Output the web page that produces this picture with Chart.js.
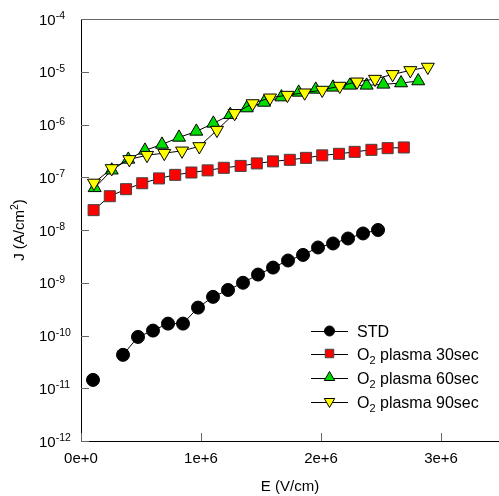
<!DOCTYPE html>
<html>
<head>
<meta charset="utf-8">
<script src="https://cdn.jsdelivr.net/npm/chart.js@4.4.1/dist/chart.umd.min.js"></script>
<style>
  body { margin: 0; background: #fff; }
  canvas { display: block; }
</style>
</head>
<body>
<canvas id="chart" width="499" height="496"></canvas>
<script>
// J-E data
var stdE = [0.1e6, 0.225e6, 0.35e6, 0.475e6, 0.6e6, 0.725e6, 0.85e6, 0.975e6, 1.1e6, 1.225e6,
            1.35e6, 1.475e6, 1.6e6, 1.725e6, 1.85e6, 1.975e6, 2.1e6, 2.225e6, 2.35e6, 2.475e6];
var stdJ = [1.44e-11, null, 4.3e-11, 9.4e-11, 1.24e-10, 1.68e-10, 1.68e-10, 3.38e-10, 5.4e-10, 7.3e-10,
            1.0e-9, 1.43e-9, 1.94e-9, 2.64e-9, 3.37e-9, 4.66e-9, 5.55e-9, 6.9e-9, 8.6e-9, 1.0e-8];

var p30E = [0.105e6, 0.24e6, 0.375e6, 0.51e6, 0.65e6, 0.785e6, 0.92e6, 1.055e6, 1.19e6, 1.33e6,
            1.465e6, 1.6e6, 1.74e6, 1.875e6, 2.01e6, 2.15e6, 2.28e6, 2.42e6, 2.555e6, 2.69e6];
var p30J = [2.38e-8, 4.37e-8, 5.94e-8, 7.7e-8, 9.5e-8, 1.11e-7, 1.23e-7, 1.35e-7, 1.51e-7, 1.64e-7,
            1.83e-7, 2.0e-7, 2.14e-7, 2.33e-7, 2.6e-7, 2.78e-7, 3.03e-7, 3.31e-7, 3.56e-7, 3.67e-7];

var p60E = [0.114e6, 0.256e6, 0.394e6, 0.533e6, 0.675e6, 0.817e6, 0.961e6, 1.103e6, 1.244e6, 1.381e6,
            1.525e6, 1.67e6, 1.814e6, 1.956e6, 2.1e6, 2.24e6, 2.38e6, 2.52e6, 2.667e6, 2.81e6];
var p60J = [6.3e-8, 1.36e-7, 2.18e-7, 3.23e-7, 4.19e-7, 5.69e-7, 7.4e-7, 1.05e-6, 1.53e-6, 2.05e-6,
            2.62e-6, 3.31e-6, 4.06e-6, 4.63e-6, 5.06e-6, 5.52e-6, 5.52e-6, 5.77e-6, 6.11e-6, 6.67e-6];

var p90E = [0.108e6, 0.256e6, 0.403e6, 0.55e6, 0.694e6, 0.842e6, 0.986e6, 1.133e6, 1.28e6, 1.43e6,
            1.575e6, 1.72e6, 1.864e6, 2.01e6, 2.156e6, 2.3e6, 2.45e6, 2.597e6, 2.744e6, 2.89e6];
var p90J = [7.8e-8, 1.47e-7, 2.18e-7, 2.62e-7, 2.86e-7, 3.17e-7, 3.84e-7, 7.83e-7, 1.63e-6, 2.5e-6,
            3.21e-6, 3.61e-6, 4.0e-6, 4.5e-6, 5.36e-6, 6.45e-6, 7.26e-6, 8.93e-6, 1.06e-5, 1.23e-5];

// axis ticks
var xTicks = [0, 1e6, 2e6, 3e6];
var xTickLabels = ['0e+0', '1e+6', '2e+6', '3e+6'];
var yExps = [-12, -11, -10, -9, -8, -7, -6, -5, -4];

// legend entries: [main text before subscript, subscript, rest]
var legendNames = [['STD', '', ''], ['O', '2', ' plasma 30sec'], ['O', '2', ' plasma 60sec'], ['O', '2', ' plasma 90sec']];

function pts(xs, ys) {
    return xs.map(function (x, i) { return { x: x, y: ys[i] }; });
}

var FONT = '"Liberation Sans", Arial, sans-serif';

// marker drawing used for legend
function marker(ctx, style, x, y, r, rot, fill, stroke) {
    ctx.save();
    ctx.fillStyle = fill;
    ctx.strokeStyle = stroke;
    ctx.lineWidth = 1;
    ctx.beginPath();
    if (style === 'circle') {
        ctx.arc(x, y, r, 0, Math.PI * 2);
    } else if (style === 'rect') {
        var s = r * Math.SQRT1_2;
        ctx.rect(x - s, y - s, 2 * s, 2 * s);
    } else {
        var a = rot * Math.PI / 180;
        for (var k = 0; k < 3; k++) {
            var px = x + Math.sin(a) * r, py = y - Math.cos(a) * r;
            if (k === 0) ctx.moveTo(px, py); else ctx.lineTo(px, py);
            a += 2 * Math.PI / 3;
        }
        ctx.closePath();
    }
    ctx.fill();
    ctx.stroke();
    ctx.restore();
}

var decor = {
    id: 'decor',
    beforeDatasetsDraw: function (chart) {
        var ctx = chart.ctx, a = chart.chartArea;
        var xs = chart.scales.x, ys = chart.scales.y;
        ctx.save();
        // frame
        ctx.lineWidth = 1;
        ctx.strokeStyle = '#666';
        ctx.beginPath();
        ctx.moveTo(a.left, a.top + 0.5); ctx.lineTo(a.right, a.top + 0.5);
        ctx.stroke();
        ctx.strokeStyle = '#000';
        ctx.beginPath();
        ctx.moveTo(a.left + 0.5, a.top); ctx.lineTo(a.left + 0.5, a.bottom + 0.5);
        ctx.lineTo(a.right, a.bottom + 0.5);
        ctx.stroke();
        // inner tick marks
        ctx.strokeStyle = '#666';
        ctx.beginPath();
        yExps.forEach(function (e) {
            var y = Math.round(ys.getPixelForValue(Math.pow(10, e))) + 0.5;
            ctx.moveTo(a.left, y); ctx.lineTo(a.left + 8, y);
        });
        xTicks.forEach(function (v) {
            var x = Math.round(xs.getPixelForValue(v)) + 0.5;
            ctx.moveTo(x, a.bottom); ctx.lineTo(x, a.bottom - 8);
        });
        ctx.stroke();
        ctx.restore();
    },
    afterDraw: function (chart) {
        var ctx = chart.ctx, a = chart.chartArea;
        var xs = chart.scales.x, ys = chart.scales.y;
        ctx.save();
        ctx.fillStyle = '#000';
        // y tick labels 10^n
        yExps.forEach(function (e) {
            var y = ys.getPixelForValue(Math.pow(10, e));
            ctx.font = '15px ' + FONT;
            ctx.textAlign = 'left';
            ctx.textBaseline = 'alphabetic';
            ctx.fillText('10', 39, y + 5.5);
            var w = ctx.measureText('10').width;
            ctx.font = '10.5px ' + FONT;
            ctx.fillText('-' + Math.abs(e), 39 + w, y);
        });
        // x tick labels
        ctx.font = '15px ' + FONT;
        ctx.textAlign = 'center';
        xTicks.forEach(function (v, i) {
            ctx.fillText(xTickLabels[i], xs.getPixelForValue(v), 463);
        });
        // axis titles
        ctx.fillText('E (V/cm)', (a.left + a.right) / 2, 491);
        ctx.save();
        ctx.translate(24, (a.top + a.bottom) / 2);
        ctx.rotate(-Math.PI / 2);
        ctx.textAlign = 'left';
        ctx.font = '15px ' + FONT;
        var t1 = 'J (A/cm', t2 = '2', t3 = ')';
        var w1 = ctx.measureText(t1).width, w3 = ctx.measureText(t3).width;
        ctx.font = '10.5px ' + FONT;
        var w2 = ctx.measureText(t2).width;
        var sx = -(w1 + w2 + w3) / 2;
        ctx.font = '15px ' + FONT;
        ctx.fillText(t1, sx, 0);
        ctx.font = '10.5px ' + FONT;
        ctx.fillText(t2, sx + w1, -6);
        ctx.font = '15px ' + FONT;
        ctx.fillText(t3, sx + w1 + w2, 0);
        ctx.restore();

        // legend
        var rowsY = [331, 353.5, 377.5, 401.5];
        chart.data.datasets.forEach(function (ds, i) {
            var y = rowsY[i];
            ctx.strokeStyle = '#000';
            ctx.lineWidth = 1;
            ctx.beginPath();
            ctx.moveTo(311, Math.round(y) + 0.5); ctx.lineTo(348, Math.round(y) + 0.5);
            ctx.stroke();
            marker(ctx, ds.pointStyle, 329.5, y, ds.legendRadius, ds.pointRotation || 0,
                   ds.pointBackgroundColor, ds.pointBorderColor);
            var n = legendNames[i];
            ctx.fillStyle = '#000';
            ctx.textAlign = 'left';
            ctx.font = '16px ' + FONT;
            var x = 357;
            ctx.fillText(n[0], x, y + 6);
            x += ctx.measureText(n[0]).width;
            if (n[1]) {
                ctx.font = '11px ' + FONT;
                ctx.fillText(n[1], x, y + 10);
                x += ctx.measureText(n[1]).width;
                ctx.font = '16px ' + FONT;
                ctx.fillText(n[2], x, y + 6);
            }
        });
        ctx.restore();
    }
};

var ctx = document.getElementById('chart').getContext('2d');
var chart = new Chart(ctx, {
    type: 'line',
    data: {
        datasets: [{
            label: 'STD',
            data: pts(stdE, stdJ),
            borderColor: '#000', borderWidth: 1,
            pointStyle: 'circle', pointRadius: 6.5, legendRadius: 5,
            pointBackgroundColor: '#000', pointBorderColor: '#000',
            spanGaps: false, order: 3
        }, {
            label: 'O2 plasma 30sec',
            data: pts(p30E, p30J),
            borderColor: '#000', borderWidth: 1,
            pointStyle: 'rect', pointRadius: 7.8, legendRadius: 6,
            pointBackgroundColor: '#ff0000', pointBorderColor: '#444',
            order: 2
        }, {
            label: 'O2 plasma 60sec',
            data: pts(p60E, p60J),
            borderColor: '#000', borderWidth: 1,
            pointStyle: 'triangle', pointRadius: 7.5, legendRadius: 6,
            pointBackgroundColor: '#00dd00', pointBorderColor: '#000',
            order: 1
        }, {
            label: 'O2 plasma 90sec',
            data: pts(p90E, p90J),
            borderColor: '#000', borderWidth: 1,
            pointStyle: 'triangle', pointRotation: 180, pointRadius: 7.5, legendRadius: 6,
            pointBackgroundColor: '#ffff00', pointBorderColor: '#000',
            order: 0
        }]
    },
    options: {
        responsive: false,
        animation: false,
        layout: { autoPadding: false, padding: { left: 81, top: 19, right: 0, bottom: 55 } },
        elements: { line: { tension: 0 }, point: { borderWidth: 1 } },
        scales: {
            x: { type: 'linear', min: 0, max: 3.483e6, display: false },
            y: { type: 'logarithmic', min: 1e-12, max: 1e-4, display: false }
        },
        plugins: { legend: { display: false }, tooltip: { enabled: false } }
    },
    plugins: [decor]
});
</script>
</body>
</html>
